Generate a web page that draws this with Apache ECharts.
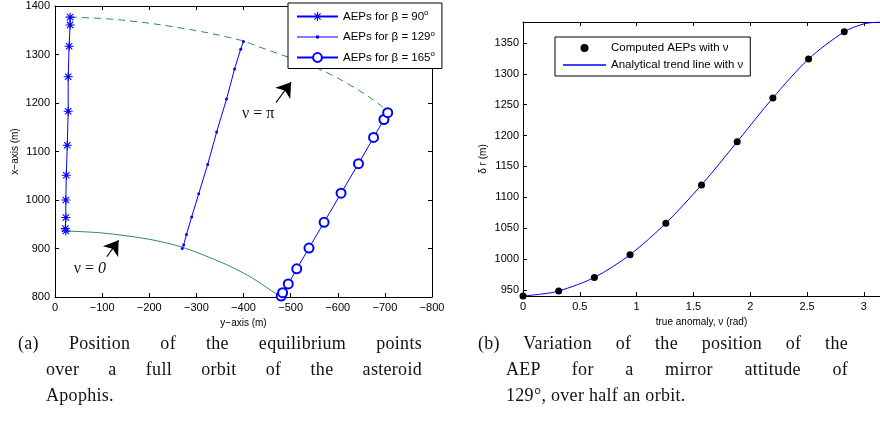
<!DOCTYPE html>
<html>
<head>
<meta charset="utf-8">
<script src="https://cdn.jsdelivr.net/npm/echarts@6/dist/echarts.min.js"></script>
<style>
  body { margin:0; background:#fff; }
  #wrap { position:relative; width:880px; height:426px; }
  #chart { position:absolute; left:0; top:0; width:880px; height:426px; }
  .cap { position:absolute; font-family:"Liberation Serif", serif; font-size:18px; letter-spacing:0.3px; color:#111; line-height:26px; }
  .cap div { white-space:nowrap; }
  .cap .j { text-align:justify; text-align-last:justify; white-space:normal; }
</style>
</head>
<body>
<div id="wrap">
  <div id="chart"></div>
  <div class="cap" style="left:18px;top:330px;width:404px">
    <div class="j">(a) Position of the equilibrium points</div>
    <div class="j" style="margin-left:28px">over a full orbit of the asteroid</div>
    <div style="margin-left:28px">Apophis.</div>
  </div>
  <div class="cap" style="left:478px;top:330px;width:370px">
    <div class="j">(b) Variation of the position of the</div>
    <div class="j" style="margin-left:28px">AEP for a mirror attitude of</div>
    <div style="margin-left:28px">129°, over half an orbit.</div>
  </div>
</div>
<script>
// (a) positions, [y-axis (m), x-axis (m)]
const beta90 = [[-23,936],[-22,941],[-23,964],[-23,1000],[-24,1051],[-26,1113],[-28,1183],[-28,1254],[-30,1317],[-32,1361],[-32,1377]]
const beta129 = [[-270,900],[-273,907],[-279,929],[-290,965],[-305,1013],[-324,1073],[-343,1140],[-364,1208],[-381,1270],[-394,1311],[-400,1327]]
const beta165 = [[-480,802],[-483,809],[-495,827],[-513,858],[-539,901],[-571,954],[-607,1014],[-644,1075],[-676,1129],[-698,1166],[-706,1180]]
const nuZero = [[-23,936],[-100,932],[-200,919],[-272,902],[-354,871],[-393,853],[-424,836],[-456,815],[-481,800]]
const nuPi = [[-32,1377],[-142,1371],[-283,1352],[-396,1329],[-421,1320],[-555,1272],[-626,1237],[-690,1196],[-706,1180]]

// (b) AEP distance against true anomaly
const anomaly = [0,0.314,0.628,0.942,1.257,1.571,1.885,2.199,2.513,2.827]
const deltaR = [940,948,970,1007,1058,1120,1190,1261,1324,1368]
const trendAnomaly = [0,0.157,0.314,0.628,0.942,1.257,1.571,1.885,2.199,2.513,2.827,3.0,3.1416]
const trendDeltaR = [940,943,948,970,1007,1058,1120,1190,1261,1324,1368,1381,1384]

const xTicksB = [0,0.5,1,1.5,2,2.5,3]
const yTicksB = [950,1000,1050,1100,1150,1200,1250,1300,1350]

const font = 'Liberation Sans'
const blue = '#0000ff'
const green = '#2e8b57'
const star = 'path://M-1.2,-10L1.2,-10L1.2,10L-1.2,10Z M-10,-1.2L10,-1.2L10,1.2L-10,1.2Z M-6.2,-7.9L7.9,6.2L6.2,7.9L-7.9,-6.2Z M-7.9,6.2L6.2,-7.9L7.9,-6.2L-6.2,7.9Z'

function ax(extra){
  return Object.assign({
    type:'value',
    splitLine:{show:false},
    axisLine:{show:true,onZero:false,lineStyle:{color:'#000',width:1}},
    axisTick:{show:true,inside:true,length:4,lineStyle:{color:'#000'}},
    axisLabel:{color:'#000',fontFamily:font,fontSize:11,margin:5,formatter:v=>String(v)},
    nameTextStyle:{color:'#000',fontFamily:font,fontSize:10}
  },extra)
}
const minus = v => v===0 ? '0' : '\u2212'+Math.abs(v)

let myChart=echarts.init(document.getElementById('chart'))
myChart.setOption({
  animation:false,
  grid:[
    {left:55,top:6,width:377,height:291},
    {left:523,top:22,width:361,height:274}
  ],
  xAxis:[
    ax({gridIndex:0,position:'bottom',inverse:true,min:-800,max:0,interval:100,
      axisLabel:{color:'#000',fontFamily:font,fontSize:11,margin:5,formatter:minus},
      name:'y\u2212axis (m)',nameLocation:'middle',nameGap:16}),
    ax({gridIndex:0,position:'top',inverse:true,min:-800,max:0,interval:100,axisLabel:{show:false}}),
    ax({gridIndex:1,position:'bottom',min:0,max:Math.PI,
      axisLabel:{color:'#000',fontFamily:font,fontSize:11,margin:5,customValues:xTicksB},
      axisTick:{show:true,inside:true,length:4,lineStyle:{color:'#000'},customValues:xTicksB},
      name:'true anomaly, \u03bd (rad)',nameLocation:'middle',nameGap:16}),
    ax({gridIndex:1,position:'top',min:0,max:Math.PI,axisLabel:{show:false},
      axisTick:{show:true,inside:true,length:4,lineStyle:{color:'#000'},customValues:xTicksB}})
  ],
  yAxis:[
    ax({gridIndex:0,position:'left',min:800,max:1400,interval:100,
      name:'x\u2212axis (m)',nameLocation:'middle',nameGap:35}),
    ax({gridIndex:0,position:'right',min:800,max:1400,interval:100,axisLabel:{show:false}}),
    ax({gridIndex:1,position:'left',min:940,max:1384,
      axisLabel:{color:'#000',fontFamily:font,fontSize:11,margin:4,customValues:yTicksB,formatter:v=>String(v)},
      axisTick:{show:true,inside:true,length:4,lineStyle:{color:'#000'},customValues:yTicksB},
      name:'\u03b4 r (m)',nameLocation:'middle',nameGap:35})
  ],
  legend:[
    {
      left:288,top:3,orient:'vertical',
      padding:[6,7,5,8],itemGap:7,itemWidth:41,itemHeight:11,
      backgroundColor:'#fff',borderColor:'#000',borderWidth:1,
      data:[
        {name:'AEPs for \u03b2 = 90'},
        {name:'AEPs for \u03b2 = 129',icon:'path://M0,1L41,1L41,2.2L0,2.2Z M19,0L22,0L22,3.2L19,3.2Z'},
        {name:'AEPs for \u03b2 = 165'}
      ],
      formatter:n=>n+'{s|o}',
      textStyle:{color:'#000',fontFamily:font,fontSize:11.5,
        rich:{s:{fontSize:8,fontFamily:font,padding:[0,0,7,0]}}}
    },
    {
      left:555,top:37,orient:'vertical',
      padding:[5,7,5,8],itemGap:5,itemWidth:43,itemHeight:8,
      backgroundColor:'#fff',borderColor:'#000',borderWidth:1,
      data:[
        {name:'Computed AEPs with \u03bd',icon:'circle'},
        {name:'Analytical trend line with \u03bd',icon:'path://M0,0L43,0L43,1.3L0,1.3Z'}
      ],
      textStyle:{color:'#000',fontFamily:font,fontSize:11.5}
    }
  ],
  series:[
    {
      name:'nu0',type:'line',xAxisIndex:0,yAxisIndex:0,
      data:nuZero,smooth:0.3,symbol:'none',
      lineStyle:{color:green,width:1},
      markLine:{
        silent:true,symbol:['none','arrow'],symbolSize:14,
        label:{show:false},lineStyle:{color:'#000',width:1.2,type:'solid'},
        data:[
          [{coord:[-110,883]},{coord:[-135,917]}],
          [{coord:[-469,1201]},{coord:[-501,1243]}]
        ]
      },
      markPoint:{
        silent:true,symbol:'circle',symbolSize:0,itemStyle:{color:'transparent'},
        label:{show:true,position:'inside',color:'#111',fontFamily:'Liberation Serif',fontSize:16,
          rich:{a:{fontFamily:'Liberation Serif',fontSize:16,color:'#111'},
                b:{fontFamily:'Liberation Serif',fontSize:16,fontStyle:'italic',color:'#111'}}},
        data:[
          {coord:[-74,858],label:{formatter:'{a|\u03bd = }{b|0}'}},
          {coord:[-431,1177],label:{formatter:'{a|\u03bd = \u03c0}'}}
        ]
      }
    },
    {
      name:'nuPi',type:'line',xAxisIndex:0,yAxisIndex:0,
      data:nuPi,smooth:0.4,symbol:'none',
      lineStyle:{color:green,width:1,type:[7,5]}
    },
    {
      name:'AEPs for \u03b2 = 90',type:'line',xAxisIndex:0,yAxisIndex:0,
      data:beta90,symbol:star,symbolSize:9,
      itemStyle:{color:blue},lineStyle:{color:blue,width:1}
    },
    {
      name:'AEPs for \u03b2 = 129',type:'line',xAxisIndex:0,yAxisIndex:0,
      data:beta129,symbol:'circle',symbolSize:3,
      itemStyle:{color:blue},lineStyle:{color:blue,width:1}
    },
    {
      name:'AEPs for \u03b2 = 165',type:'line',xAxisIndex:0,yAxisIndex:0,
      data:beta165,symbol:'emptyCircle',symbolSize:9,
      itemStyle:{color:blue,borderColor:blue,borderWidth:1},lineStyle:{color:blue,width:1}
    },
    {
      name:'Analytical trend line with \u03bd',type:'line',xAxisIndex:2,yAxisIndex:2,
      data:trendAnomaly.map((v,i)=>[v,trendDeltaR[i]]),smooth:0.3,symbol:'none',
      itemStyle:{color:blue},lineStyle:{color:blue,width:1}
    },
    {
      name:'Computed AEPs with \u03bd',type:'scatter',xAxisIndex:2,yAxisIndex:2,
      data:anomaly.map((v,i)=>[v,deltaR[i]]),symbolSize:7,
      itemStyle:{color:'#000',opacity:1},z:3
    }
  ]
})
</script>
</body>
</html>
